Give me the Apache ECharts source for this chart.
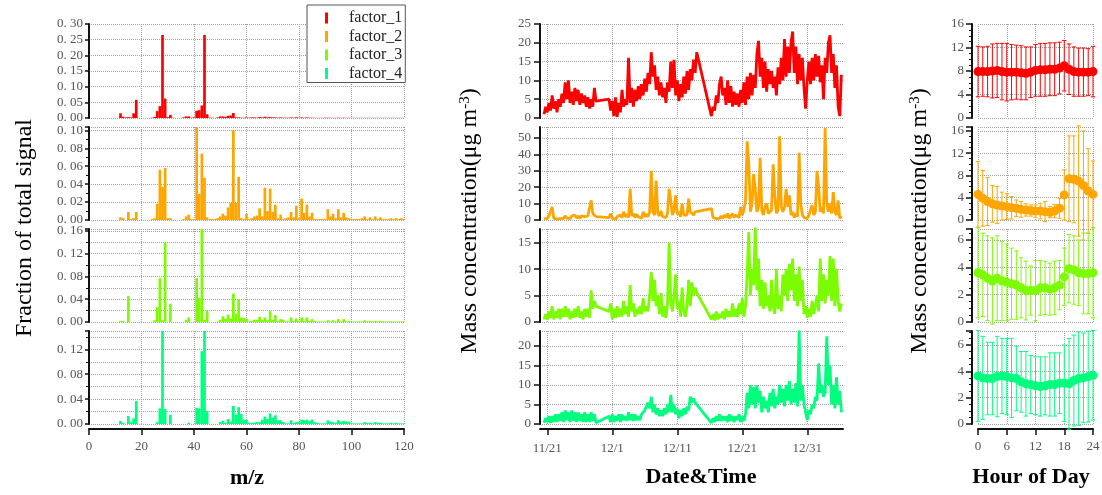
<!DOCTYPE html>
<html><head><meta charset="utf-8">
<script src="https://cdn.jsdelivr.net/npm/echarts@6/dist/echarts.min.js"></script>
<style>html,body{margin:0;padding:0;background:#fff}#c{width:1102px;height:495px}</style>
</head><body><div id="c"></div>
<script>
// ---------------- DATA ----------------
const factorNames = ['factor_1', 'factor_2', 'factor_3', 'factor_4'];

// mass spectra: m/z 12..120
const mzValues = [12,13,14,15,16,17,18,19,20,21,22,23,24,25,26,27,28,29,30,31,32,33,34,35,36,37,38,39,40,41,
  42,43,44,45,46,47,48,49,50,51,52,53,54,55,56,57,58,59,60,61,62,63,64,65,66,67,68,69,70,71,
  72,73,74,75,76,77,78,79,80,81,82,83,84,85,86,87,88,89,90,91,92,93,94,95,96,97,98,99,100,101,
  102,103,104,105,106,107,108,109,110,111,112,113,114,115,116,117,118,119,120];
const spec1 = [0.015,0.004,0.002,0.003,0.002,0.015,0.058,0,0,0,
  0,0,0.001,0.003,0.022,0.038,0.265,0.062,0.003,0.010,
  0.001,0,0,0,0.002,0.005,0.005,0.001,0.002,0.023,
  0.025,0.040,0.265,0.012,0.001,0.001,0,0.002,0.005,0.005,
  0.004,0.007,0.008,0.016,0.002,0.002,0.001,0.001,0.002,0.001,
  0.002,0.002,0.001,0.003,0.002,0.004,0.002,0.003,0.002,0.002,
  0.001,0.002,0.001,0.001,0.001,0.002,0.001,0.002,0.001,0.002,
  0.001,0.002,0.001,0.001,0.0005,0.0005,0.0005,0.0005,0.001,0.001,
  0.0005,0.0005,0.0005,0.001,0.0005,0.001,0.0005,0.0005,0.0005,0.0005,
  0.0005,0.0005,0.0005,0.0005,0.0005,0.0005,0.0005,0.0005,0.0005,0.0005,
  0.0005,0.0005,0.0005,0.0005,0.0005,0.0005,0.0005,0.0005,0.0005];
const spec2 = [0.003,0.002,0,0.009,0.001,0.002,0.009,0,0,0,
  0,0,0.001,0.002,0.018,0.056,0.037,0.058,0.002,0.002,
  0,0,0,0,0.001,0.004,0.006,0.001,0.001,0.105,
  0.029,0.074,0.047,0.003,0.001,0.001,0.001,0.002,0.004,0.007,
  0.005,0.014,0.019,0.100,0.019,0.048,0.002,0.001,0.007,0.001,
  0.002,0.004,0.005,0.013,0.004,0.036,0.010,0.035,0.009,0.017,
  0.002,0.006,0.001,0.002,0.003,0.009,0.003,0.016,0.002,0.024,
  0.008,0.017,0.004,0.008,0.001,0.001,0.001,0.001,0.001,0.012,
  0.004,0.007,0.002,0.012,0.003,0.008,0.003,0.002,0.001,0.001,
  0.001,0.001,0.002,0.004,0.001,0.003,0.001,0.004,0.001,0.003,
  0.001,0.001,0.001,0.002,0.001,0.002,0.001,0.002,0.001];
const spec3 = [0.002,0.002,0,0.046,0,0,0,0,0,0,
  0,0,0,0.003,0.026,0.077,0.003,0.140,0,0.032,
  0,0,0,0,0,0.004,0.008,0,0,0.077,
  0.042,0.165,0.004,0.020,0,0,0,0.001,0.004,0.010,
  0.006,0.013,0.006,0.050,0.015,0.040,0.008,0.007,0.006,0.001,
  0.002,0.004,0.004,0.009,0.004,0.008,0.003,0.019,0.004,0.012,
  0.002,0.005,0.004,0.001,0.001,0.008,0.002,0.006,0.002,0.008,
  0.002,0.008,0.002,0.005,0.002,0.001,0.001,0.001,0.001,0.003,
  0.001,0.003,0.001,0.005,0.001,0.005,0.001,0.002,0.001,0.001,
  0.001,0.001,0.001,0.003,0.001,0.002,0.001,0.002,0.001,0.002,
  0.001,0.001,0.001,0.001,0.001,0.001,0.001,0.001,0.001];
const spec4 = [0.005,0.002,0,0.013,0.003,0.009,0.037,0,0,0,
  0,0,0,0,0.003,0.025,0.150,0.024,0,0.015,
  0,0,0,0,0,0,0.002,0,0,0.026,
  0.025,0.117,0.150,0.021,0,0,0,0,0.003,0.005,
  0.002,0.008,0.004,0.029,0.015,0.027,0.016,0.007,0.007,0.002,
  0.002,0.002,0.003,0.003,0.007,0.012,0.008,0.017,0.010,0.014,
  0.006,0.006,0.003,0.001,0.001,0.006,0.002,0.003,0.003,0.007,
  0.006,0.007,0.005,0.007,0.003,0.002,0.001,0.001,0.001,0.006,
  0.004,0.003,0.002,0.006,0.004,0.005,0.004,0.004,0.001,0.001,
  0.001,0.001,0.001,0.003,0.002,0.002,0.001,0.003,0.002,0.002,
  0.001,0.001,0.001,0.002,0.001,0.002,0.001,0.001,0.001];

// time series: sample times in days after 11/21 00:00, every 6 h, with two data gaps
const sampleSegments = [[-0.5, 7.5], [9.5, 23.0], [25.25, 45.25]];
const sampleStep = 0.25;
const dateTickDays = [0, 10, 20, 30, 40];
const dateTickLabels = ['11/21', '12/1', '12/11', '12/21', '12/31'];

const ts1 = [1.0,3.0,1.5,4.0,2.0,6.0,2.5,4.5,1.5,5.0,3.0,6.5,4.0,9.5,5.0,10.0,4.0,7.0,3.5,8.0,4.5,7.5,3.5,6.5,4.0,6.0,3.0,5.5,2.5,5.0,3.0,8.0,4.5,
  5.0,2.0,4.5,0.5,5.5,0.3,4.0,1.5,7.5,3.0, 5.0,3.5,16.0,4.0,8.0,3.0,7.5,4.5,8.5,5.0, 9.0,6.0,10.5,7.0,12.0,9.0,17.5,11.0,14.0,7.5,
  11.0,6.0,9.5,5.5,8.0,4.0,9.5,7.0,15.0,8.0, 15.5,6.0,10.0,4.5,9.0,5.5,11.0,6.5,12.5,7.5, 13.0,10.0,15.5,12.0,17.5,
  0.5,3.0,2.0,6.0,4.0,9.0,11.0,6.0,8.0,3.5, 10.0,4.0,8.5,3.0,7.0,3.5,6.5,3.0,7.5,4.0, 9.5,3.5,11.0,5.0,12.0,6.0,11.5,8.0,17.0,20.5,
  11.0,16.0,8.0,15.0,7.0,13.0,9.0,12.5,8.0,11.0, 6.0,13.5,9.0,16.0,10.0,21.0,11.0,19.0,12.0,20.0, 23.0,12.0,19.0,9.0,17.0,10.0,16.0,8.0,2.5,10.0,
  15.0,9.0,16.0,10.0,17.0,11.0,16.5,9.5,14.0,5.0, 16.0,12.0,20.0,22.0,12.0,17.0,8.0,14.0,3.0,0.5, 11.5];
const ts2 = [0.8,2.0,1.0,2.5,1.5,8.0,1.0,2.0,0.5,1.5, 0.8,2.0,1.0,2.5,1.2,2.0,0.8,2.5,1.5,3.0, 1.2,2.5,1.0,2.5,1.5,2.0,1.0,2.5,1.5,12.0, 4.0,5.0,2.0,
  1.5,4.0,1.0,2.0,0.5,2.0,1.0,3.0,1.5,5.0, 2.0,3.5,1.5,19.0,2.5,4.0,1.5,3.5,2.0,3.0, 1.0,5.0,2.0,3.5,2.0,5.0,30.0,5.0,3.0,24.0,
  4.0,2.5,5.5,2.0,3.0,1.5,4.0,19.0,12.0,3.0, 6.0,15.0,3.5,5.0,2.0,10.0,3.0,2.0,3.0,13.0, 5.0,4.0,3.0,5.0,4.0,
  7.0,1.5,2.5,0.8,2.0,1.0,2.5,1.0,3.0,1.5, 4.0,1.0,2.5,4.0,1.5,3.0,4.0,1.5,8.0,3.0, 6.0,12.0,48.0,35.0,5.0,10.0,28.0,18.0,5.0,8.0,
  38.0,6.0,3.0,8.0,10.0,4.0,3.0,6.0,34.0,15.0, 4.0,6.0,51.0,8.0,5.0,8.0,19.0,8.0,15.0,3.0, 5.0,1.5,4.0,2.0,41.0,10.0,3.0,1.5,2.5,1.0,
  3.0,2.0,9.0,3.0,5.0,30.0,20.0,5.0,8.0,4.0, 56.0,10.0,5.0,10.0,4.0,17.0,5.0,3.0,12.0,1.0, 2.5];
const ts3 = [0.5,1.5,0.5,2.0,0.8,3.0,0.5,2.0,0.8,2.5, 0.5,2.5,1.0,3.0,1.0,2.5,0.5,2.0,0.8,2.5, 1.0,3.0,0.8,2.0,0.5,2.5,1.0,2.5,0.8,6.0, 2.5,4.0,3.0,
  2.0,3.5,0.5,2.5,0.8,3.0,1.0,2.5,1.0,4.0, 1.5,3.0,1.0,7.0,2.0,3.5,1.0,2.5,1.5,3.0, 1.5,4.5,2.0,3.0,2.0,5.0,9.5,4.0,8.0,3.0,
  5.0,1.5,5.5,1.0,3.0,0.8,3.5,15.0,4.0,2.0, 5.0,9.0,2.5,4.0,1.0,6.5,2.0,1.0,3.0,8.0, 3.0,7.5,5.0,6.5,5.5,
  0.5,1.5,0.3,2.0,0.5,1.5,0.8,2.0,0.5,2.5, 1.0,2.0,1.0,3.5,1.0,2.5,1.0,3.5,1.5,4.5, 1.0,3.0,9.0,17.0,5.0,10.0,7.0,18.0,6.0,12.0,
  3.0,8.0,2.5,7.5,3.0,5.0,2.0,8.0,3.0,1.5, 10.0,2.5,5.0,2.0,9.0,5.0,10.0,4.0,11.0,6.0, 12.0,4.0,9.0,3.0,10.5,4.0,8.0,1.5,3.0,0.8,
  2.5,1.0,4.0,1.5,3.0,5.0,2.0,12.0,4.0,9.0, 3.5,8.0,5.0,12.5,4.0,12.0,3.0,10.0,4.0,2.0, 3.5];
const ts4 = [0.3,1.5,0.5,2.0,0.3,2.0,0.5,2.5,0.5,2.5, 0.8,3.0,0.5,3.5,1.0,3.0,0.5,3.5,0.8,3.0, 0.5,3.0,0.8,2.5,0.5,3.0,0.5,2.5,0.5,3.0, 0.8,2.5,0.3,
  2.0,0.5,2.5,0.5,2.0,0.8,2.5,0.5,2.5,1.0, 2.0,0.8,3.0,1.0,2.5,0.8,2.5,1.0,2.0,1.0, 2.5,2.0,3.5,3.0,5.5,4.0,7.0,3.0,5.0,2.5,
  4.0,2.0,3.5,2.0,4.0,2.5,5.0,3.0,7.5,3.0, 5.0,2.5,4.0,1.5,3.5,2.0,4.0,2.5,4.5,3.5, 7.0,5.5,6.5,5.5,5.0,
  0.3,1.5,0.5,2.0,0.8,2.5,0.8,2.0,1.0,2.0, 0.5,2.5,0.8,2.0,0.5,2.0,1.0,2.5,0.5,2.0, 0.8,2.5,8.0,4.0,10.0,5.0,9.5,4.0,10.0,5.5,
  8.5,3.0,7.0,4.0,6.0,3.0,8.0,4.5,9.0,4.0, 7.0,5.0,10.0,5.5,9.0,4.5,10.0,6.0,11.0,5.0, 9.0,5.5,10.5,4.5,24.0,6.0,10.0,5.0,3.0,1.0,
  3.5,2.5,5.0,4.0,7.0,6.0,15.5,8.0,10.0,7.0, 8.0,22.5,10.0,15.0,5.0,10.0,4.0,12.0,5.0,8.5, 3.0];

// diurnal cycles: hour 0..24, mean and standard deviation
const hoursOfDay = [0,1,2,3,4,5,6,7,8,9,10,11,12,13,14,15,16,17,18,19,20,21,22,23,24];
const mean1 = [7.9,7.9,7.9,8.0,8.1,7.9,7.8,7.8,7.8,7.7,7.6,7.8,8.1,8.2,8.2,8.3,8.3,8.5,8.9,8.3,7.9,7.8,7.8,7.8,7.9];
const sd1   = [4.3,4.2,4.3,4.6,4.6,4.8,4.9,4.7,4.6,4.6,4.5,4.3,4.4,4.5,4.5,4.5,4.5,4.4,4.3,4.3,4.2,4.1,4.1,4.0,4.3];
const mean2 = [4.6,3.9,3.3,2.9,2.7,2.5,2.4,2.2,2.1,1.9,1.8,1.7,1.6,1.6,1.5,1.4,1.6,2.1,4.5,7.4,7.3,7.0,6.2,5.2,4.6];
const sd2   = [5.9,5.0,4.3,3.3,3.3,2.5,2.3,2.0,1.5,1.4,1.1,1.0,1.1,1.4,1.8,1.0,1.2,1.8,4.5,7.7,7.8,9.9,9.8,7.6,6.0];
const mean3 = [3.6,3.45,3.2,3.0,3.2,3.0,2.9,2.8,2.7,2.5,2.3,2.3,2.3,2.5,2.5,2.4,2.5,2.7,3.3,3.9,3.8,3.6,3.55,3.55,3.6];
const sd3   = [3.3,3.05,3.1,3.15,3.1,2.9,2.8,2.6,2.5,2.2,2.15,1.8,2.2,2.0,1.95,1.9,1.95,1.8,2.1,2.5,2.5,2.4,2.95,2.95,3.3];
const mean4 = [3.65,3.5,3.45,3.45,3.6,3.65,3.6,3.5,3.45,3.2,3.05,3.0,2.9,2.85,2.9,3.0,3.0,3.1,3.1,3.05,3.3,3.45,3.5,3.6,3.7];
const sd4   = [3.45,3.15,2.75,2.75,3.05,2.85,2.9,3.0,2.45,2.3,2.45,2.2,2.2,2.25,2.2,2.4,2.4,2.3,2.9,3.45,3.45,3.55,3.4,3.45,3.4];

// ---------------- LAYOUT / STYLE ----------------
const FONT = 'Liberation Serif';
const colors = ['#ff0000', '#ffa500', '#7cfc00', '#00ff7f'];
const rowTop = [24, 127, 229, 331];
const rowH = [94, 93, 93, 93];
const cols = [{ left: 89, width: 315 }, { left: 540, width: 303 }, { left: 978, width: 115 }];
const specY = [
  { max: 0.30, interval: 0.05, minor: 0, minorSplit: false },
  { max: 0.1037, interval: 0.02, minor: 2, minorSplit: false },
  { max: 0.1635, interval: 0.04, minor: 2, minorSplit: true },
  { max: 0.1494, interval: 0.04, minor: 2, minorSplit: true }];
const tsY = [
  { max: 25, interval: 5 }, { max: 56.7, interval: 10 }, { max: 17.6, interval: 5 }, { max: 23.85, interval: 5 }];
const diY = [
  { max: 16, interval: 4, minor: 4 }, { max: 16.7, interval: 4, minor: 4 },
  { max: 6.8, interval: 2, minor: 4 }, { max: 7.06, interval: 2, minor: 4 }];

const sampleDays = [];
sampleSegments.forEach(([a, b]) => { for (let t = a; t <= b + 1e-9; t += sampleStep) sampleDays.push(+t.toFixed(2)); });

const specs = [spec1, spec2, spec3, spec4];
const tss = [ts1, ts2, ts3, ts4];
const means = [mean1, mean2, mean3, mean4];
const sds = [sd1, sd2, sd3, sd4];

const gridLine = { show: true, lineStyle: { color: '#a0a0a0', type: 'dotted', width: 1 } };
const labelStyle = { fontFamily: FONT, fontSize: 13, color: '#555' };

const grids = [], xAxes = [], yAxes = [], series = [];
for (let c = 0; c < 3; c++) {
  for (let r = 0; r < 4; r++) {
    const gi = c * 4 + r;
    const bottom = r === 3;
    grids.push({ left: cols[c].left, width: cols[c].width, top: rowTop[r], height: rowH[r], outerBoundsMode: 'none', containLabel: false });
    const xa = {
      type: 'value', gridIndex: gi, offset: bottom ? 5 : 0,
      axisLine: { show: bottom, onZero: false, lineStyle: { color: '#111', width: 2 } },
      axisTick: { show: bottom, length: 6, lineStyle: { color: '#111', width: 1.5 } },
      axisLabel: { show: bottom, margin: 11, ...labelStyle },
      splitLine: gridLine
    };
    if (c === 0) { Object.assign(xa, { min: 0, max: 120, interval: 20 }); }
    if (c === 1) {
      Object.assign(xa, { min: -1.12, max: 45.5 });
      xa.axisTick.customValues = dateTickDays;
      xa.axisLabel.customValues = dateTickDays;
      xa.axisLabel.formatter = v => dateTickLabels[dateTickDays.indexOf(v)] || '';
      xa.axisLabel.margin = 13;
    }
    if (c === 2) { Object.assign(xa, { min: 0, max: 24, interval: 6 }); }
    xAxes.push(xa);

    const yc = c === 0 ? specY[r] : (c === 1 ? tsY[r] : diY[r]);
    const isMult = Math.abs(yc.max / yc.interval - Math.round(yc.max / yc.interval)) < 1e-6;
    const ya = {
      type: 'value', gridIndex: gi, min: 0, max: yc.max, interval: yc.interval,
      offset: c === 2 ? 6 : 0,
      axisLine: { show: true, onZero: false, lineStyle: { color: '#111', width: 2 } },
      axisTick: { show: true, length: c === 0 ? 4 : 6, lineStyle: { color: '#111', width: 1.5 } },
      minorTick: { show: !!yc.minor, splitNumber: yc.minor || 2, length: 3, lineStyle: { color: '#111', width: 1 } },
      axisLabel: { showMaxLabel: isMult, margin: c === 0 ? 6 : (c === 1 ? 9 : 8), ...labelStyle,
        formatter: c === 0 ? (v => v.toFixed(2).replace('.', '. ')) : (v => String(Math.round(v))) },
      splitLine: gridLine,
      minorSplitLine: { show: !!yc.minorSplit, lineStyle: { color: '#a0a0a0', type: 'dotted', width: 1 } }
    };
    yAxes.push(ya);

    if (c === 0) {
      series.push({ type: 'bar', name: factorNames[r], xAxisIndex: gi, yAxisIndex: gi,
        data: mzValues.map((m, i) => [m, specs[r][i]]), barWidth: 2.7,
        itemStyle: { color: colors[r] }, animation: false, silent: true });
    } else if (c === 1) {
      series.push({ type: 'line', name: factorNames[r] + ' time series', xAxisIndex: gi, yAxisIndex: gi,
        data: sampleDays.map((d, i) => [d, tss[r][i]]), showSymbol: false, symbol: 'none',
        lineStyle: { color: colors[r], width: 2.8 }, itemStyle: { color: colors[r] }, animation: false, silent: true });
    } else {
      series.push({ type: 'custom', name: factorNames[r] + ' sd', xAxisIndex: gi, yAxisIndex: gi,
        data: hoursOfDay.map((h, i) => [h, means[r][i] - sds[r][i], means[r][i] + sds[r][i]]),
        itemStyle: { color: colors[r] }, clip: false, animation: false, silent: true,
        encode: { x: 0, y: [1, 2] },
        renderItem: (params, api) => {
          const x = api.value(0);
          const lo = api.coord([x, api.value(1)]);
          const hi = api.coord([x, api.value(2)]);
          const w = 2.2;
          const st = { stroke: colors[r], lineWidth: 1 };
          return { type: 'group', children: [
            { type: 'line', shape: { x1: lo[0], y1: lo[1], x2: hi[0], y2: hi[1] }, style: st },
            { type: 'line', shape: { x1: lo[0] - w, y1: lo[1], x2: lo[0] + w, y2: lo[1] }, style: st },
            { type: 'line', shape: { x1: hi[0] - w, y1: hi[1], x2: hi[0] + w, y2: hi[1] }, style: st }] };
        } });
      series.push({ type: 'scatter', name: factorNames[r] + ' mean', xAxisIndex: gi, yAxisIndex: gi,
        data: hoursOfDay.map((h, i) => [h, means[r][i]]), symbol: 'circle', symbolSize: 9, clip: false,
        itemStyle: { color: colors[r], opacity: 1 }, animation: false, silent: true, z: 3 });
    }
  }
}

const titleFont = { fontFamily: FONT, fill: '#000' };
const massRich = {
  a: { fontFamily: FONT, fontSize: 24, color: '#000' },
  s: { fontFamily: FONT, fontSize: 15, color: '#000', verticalAlign: 'top', padding: [0, 0, 8, 0] }
};
const graphics = [
  { type: 'text', x: 25, y: 228, rotation: Math.PI / 2, style: { ...titleFont, text: 'Fraction of total signal', fontSize: 24, align: 'center', verticalAlign: 'middle' } },
  { type: 'text', x: 470, y: 221, rotation: Math.PI / 2, style: { text: '{a|Mass concentration(μg m}{s|-3}{a|)}', rich: massRich, align: 'center', verticalAlign: 'middle' } },
  { type: 'text', x: 920, y: 221, rotation: Math.PI / 2, style: { text: '{a|Mass concentration(μg m}{s|-3}{a|)}', rich: massRich, align: 'center', verticalAlign: 'middle' } },
  { type: 'text', x: 247, y: 478, style: { ...titleFont, text: 'm/z', fontSize: 22, fontWeight: 'bold', align: 'center', verticalAlign: 'middle' } },
  { type: 'text', x: 701, y: 477, style: { ...titleFont, text: 'Date&Time', fontSize: 22, fontWeight: 'bold', align: 'center', verticalAlign: 'middle' } },
  { type: 'text', x: 1031, y: 477, style: { ...titleFont, text: 'Hour of Day', fontSize: 22, fontWeight: 'bold', align: 'center', verticalAlign: 'middle' } }
];

const chart = echarts.init(document.getElementById('c'), null, { renderer: 'canvas' });
chart.setOption({
  animation: false,
  backgroundColor: '#fff',
  grid: grids, xAxis: xAxes, yAxis: yAxes, series: series,
  legend: {
    data: factorNames, orient: 'vertical', left: 307, top: 5, padding: [5, 3, 1, 18], itemGap: 2.5,
    itemWidth: 3, itemHeight: 11, icon: 'rect', backgroundColor: '#fff', borderColor: '#555', borderWidth: 1,
    borderRadius: 0, selectedMode: false,
    textStyle: { fontFamily: FONT, fontSize: 16, color: '#222', padding: [0, 0, 0, 16] }
  },
  graphic: graphics
});
</script></body></html>
